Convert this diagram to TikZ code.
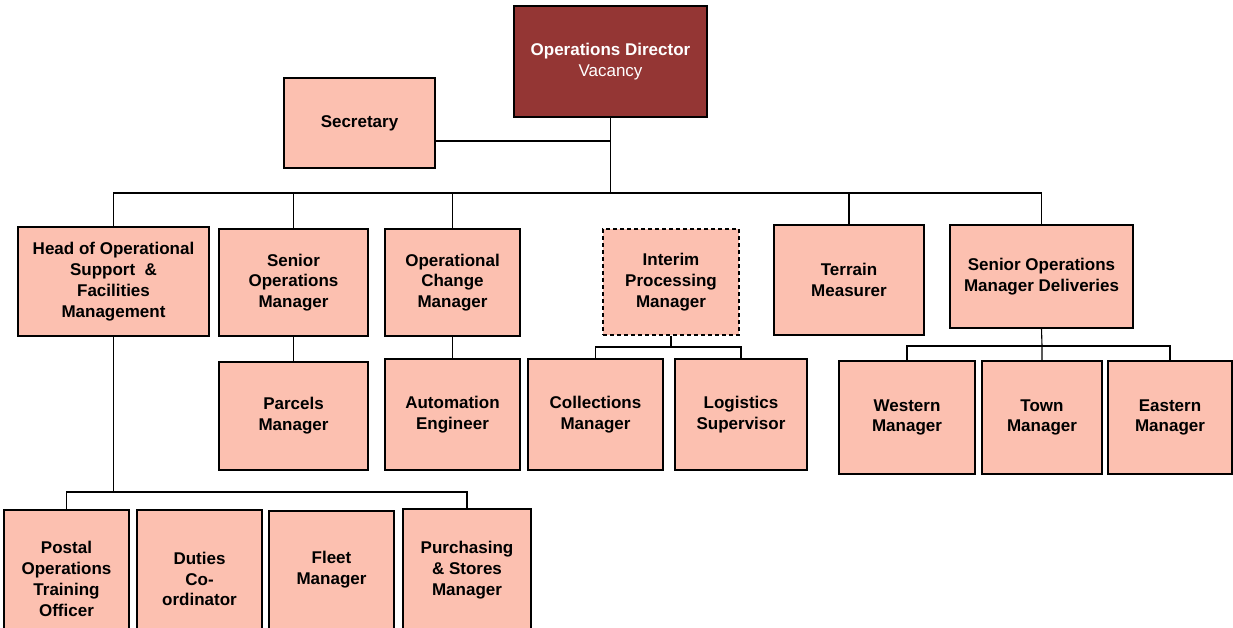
\documentclass[tikz,border=0pt]{standalone}
\usepackage{fontspec}
\setmainfont{Liberation Sans}
\definecolor{boxfill}{RGB}{252,192,176}
\definecolor{dirfill}{RGB}{148,54,52}
\tikzset{
	post/.style={draw, fill=boxfill, line width=1.3pt, align=center, inner sep=0pt,
		font=\bfseries\fontsize{17}{20.8}\selectfont},
	link/.style={line width=1.1pt}
}

\begin{document}
\begin{tikzpicture}[x=1pt,y=-1pt]
		\useasboundingbox (0,0) rectangle (1233,627);
		\clip (0,0) rectangle (1233,627);
		\node [post, fill=dirfill, text=white, minimum width=193, minimum height=111] (dir) at (610.5,61.5)
		{Operations Director\\ \mdseries Vacancy};
		\node [post, minimum width=151, minimum height=90] (sec) at (359.5,123) {Secretary};
		\node [post, minimum width=191, minimum height=109] (head) at (113.5,281.5)
		{Head of Operational\\ Support\ \ \&\\ Facilities\\ Management};
		\node [post, minimum width=149, minimum height=107] (som) at (293.5,282.5) {Senior\\ Operations\\ Manager};
		\node [post, minimum width=135, minimum height=107] (occ) at (452.5,282.5) {Operational\\ Change\\ Manager};
		\node [post, dashed, dash pattern=on 4pt off 3pt, minimum width=136, minimum height=106] (ipm) at (671,282)
		{Interim\\ Processing\\ Manager};
		\node [post, minimum width=150, minimum height=110] (ter) at (849,280) {Terrain\\ Measurer};
		\node [post, minimum width=183, minimum height=103] (somd) at (1041.5,276.5)
		{Senior Operations\\ Manager Deliveries};
		\node [post, minimum width=149, minimum height=108] (par) at (293.5,416) {Parcels\\ Manager};
		\node [post, minimum width=135, minimum height=111] (aut) at (452.5,414.5) {Automation\\ Engineer};
		\node [post, minimum width=135, minimum height=111] (col) at (595.5,414.5) {Collections\\ Manager};
		\node [post, minimum width=132, minimum height=111] (log) at (741,414.5) {Logistics\\ Supervisor};
		\node [post, minimum width=136, minimum height=113] (wes) at (907,417.5) {Western\\ Manager};
		\node [post, minimum width=120, minimum height=113] (town) at (1042,417.5) {Town\\ Manager};
		\node [post, minimum width=124, minimum height=113] (eas) at (1170,417.5) {Eastern\\ Manager};
		\node [post, minimum width=125, minimum height=138] (postal) at (66.5,579) {Postal\\ Operations\\ Training\\ Officer};
		\node [post, minimum width=125, minimum height=138] (duties) at (199.5,579) {Duties\\ Co-\\ ordinator};
		\node [post, minimum width=125, minimum height=118] (fleet) at (331.5,570) {Fleet\\ Manager};
		\node [post, minimum width=128, minimum height=122] (purch) at (467,570) {Purchasing\\ \& Stores\\ Manager};

		\coordinate (bus) at (610.5,193);
		\coordinate (secj) at (610.5,141);
		\coordinate (ibus) at (671,347);
		\coordinate (dbus) at (1042,346);
		\coordinate (hbus) at (113.5,492);

		\draw [link] (dir.south) -- (bus);
		\draw [link] (secj -| sec.east) -- (secj);
		\draw [link] (head.north) |- (bus) -| (somd.north);
		\draw [link] (som.north) -- (som.north |- bus);
		\draw [link] (occ.north) -- (occ.north |- bus);
		\draw [link] (ter.north) -- (ter.north |- bus);
		\draw [link] (som.south) -- (par.north);
		\draw [link] (occ.south) -- (aut.north);
		\draw [link] (ipm.south) -- (ibus);
		\draw [link] (col.north) |- (ibus) -| (log.north);
		\draw [link] (somd.south) -- (dbus) -- (town.north);
		\draw [link] (wes.north) |- (dbus) -| (eas.north);
		\draw [link] (head.south) -- (hbus);
		\draw [link] (postal.north) |- (hbus) -| (purch.north);
	\end{tikzpicture}
\end{document}
